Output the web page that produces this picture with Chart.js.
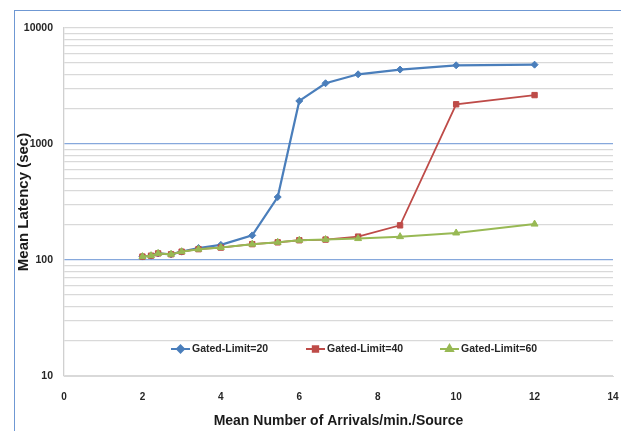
<!DOCTYPE html>
<html>
<head>
<meta charset="utf-8">
<script src="https://cdn.jsdelivr.net/npm/chart.js@4/dist/chart.umd.min.js"></script>
<style>
    html, body { margin: 0; padding: 0; background: #fff; }
    #wrap { position: relative; width: 621px; height: 431px; overflow: hidden; }
    #frame {
        position: absolute; left: 14px; top: 10px; width: 700px; height: 500px;
        border-left: 1.5px solid #6f98d3; border-top: 1.5px solid #6f98d3;
    }
    #chart { position: absolute; left: 0; top: 0; }
</style>
</head>
<body>
<div id="wrap">
    <div id="frame"></div>
    <canvas id="chart" width="621" height="431"></canvas>
</div>
<script>
// Mean number of arrivals per minute per source
const arrivals = [2, 2.22, 2.4, 2.73, 3, 3.43, 4, 4.8, 5.45, 6, 6.67, 7.5, 8.57, 10, 12];

// Mean latency (sec)
const limit20 = [107, 109, 114, 112, 118, 127, 135, 163, 349, 2350, 3340, 3990, 4380, 4770, 4830];
const limit40 = [107, 109, 114, 112, 118, 124, 128, 137, 142, 148, 150, 159, 199, 2200, 2640];
const limit60 = [107, 109, 114, 112, 118, 124, 128, 137, 142, 148, 150, 153, 159, 171, 204];

const seriesNames = ["Gated-Limit=20", "Gated-Limit=40", "Gated-Limit=60"];
const yGridTicks = [10, 20, 30, 40, 50, 60, 70, 80, 90, 100, 200, 300, 400, 500, 600, 700, 800, 900,
    1000, 2000, 3000, 4000, 5000, 6000, 7000, 8000, 9000, 10000];

const BLUE = "#4a7ebb";
const RED = "#be4b48";
const GREEN = "#98b954";

function toPoints(values) {
    return values.map((v, i) => ({ x: arrivals[i], y: v }));
}

// Legend drawn inside the plot area, like the spreadsheet original
const innerLegend = {
    id: "innerLegend",
    afterDatasetsDraw(chart) {
        const ctx = chart.ctx;
        const y = 349;
        const starts = [171, 306, 440];
        ctx.save();
        chart.data.datasets.forEach((ds, i) => {
            const x0 = starts[i];
            ctx.strokeStyle = ds.borderColor;
            ctx.fillStyle = ds.backgroundColor;
            ctx.lineWidth = 2;
            ctx.beginPath();
            ctx.moveTo(x0, y);
            ctx.lineTo(x0 + 19, y);
            ctx.stroke();
            Chart.helpers.drawPoint(ctx, {
                pointStyle: ds.pointStyle,
                radius: ds.pointRadius,
                rotation: 0,
                borderWidth: 1
            }, x0 + 9.5, y);
            ctx.fillStyle = "#262626";
            ctx.font = "bold 10.5px 'Liberation Sans', Arial, sans-serif";
            ctx.textBaseline = "middle";
            ctx.textAlign = "left";
            ctx.fillText(ds.label, x0 + 21, y);
        });
        ctx.restore();
    }
};

new Chart(document.getElementById("chart"), {
    type: "line",
    data: {
        datasets: [
            {
                label: seriesNames[0],
                data: toPoints(limit20),
                borderColor: BLUE,
                backgroundColor: BLUE,
                borderWidth: 2.2,
                pointStyle: "rectRot",
                pointRadius: 3.5,
                pointBorderWidth: 1,
                tension: 0,
                order: 3
            },
            {
                label: seriesNames[1],
                data: toPoints(limit40),
                borderColor: RED,
                backgroundColor: RED,
                borderWidth: 1.8,
                pointStyle: "rect",
                pointRadius: 3.8,
                pointBorderWidth: 1,
                tension: 0,
                order: 2
            },
            {
                label: seriesNames[2],
                data: toPoints(limit60),
                borderColor: GREEN,
                backgroundColor: GREEN,
                borderWidth: 2,
                pointStyle: "triangle",
                pointRadius: 4,
                pointBorderWidth: 1,
                tension: 0,
                order: 1
            }
        ]
    },
    options: {
        responsive: false,
        animation: false,
        layout: { padding: { left: 0, right: 8, top: 28, bottom: 0 } },
        plugins: {
            legend: { display: false },
            tooltip: { enabled: false }
        },
        scales: {
            x: {
                type: "linear",
                min: 0,
                max: 14,
                afterFit: (scale) => {
                    scale.height = 55;
                    scale.paddingLeft = 0;
                    scale.paddingRight = 0;
                },
                ticks: {
                    stepSize: 2,
                    padding: 7,
                    color: "#262626",
                    font: { family: "'Liberation Sans', Arial, sans-serif", size: 10, weight: "bold" }
                },
                grid: { display: false },
                border: { display: true, color: "#d9d9d9", width: 1 },
                title: {
                    display: true,
                    text: "Mean Number of Arrivals/min./Source",
                    color: "#1a1a1a",
                    padding: { top: 0, bottom: 1 },
                    font: { family: "'Liberation Sans', Arial, sans-serif", size: 14, weight: "bold" }
                }
            },
            y: {
                type: "logarithmic",
                min: 10,
                max: 10000,
                afterFit: (scale) => { scale.width = 64; },
                afterBuildTicks: (scale) => {
                    scale.ticks = yGridTicks.map((v) => ({ value: v }));
                },
                ticks: {
                    autoSkip: false,
                    padding: 11,
                    color: "#262626",
                    font: { family: "'Liberation Sans', Arial, sans-serif", size: 10.5, weight: "bold" },
                    callback: (value) => {
                        const e = Math.log10(value);
                        return Math.abs(e - Math.round(e)) < 1e-9 ? String(value) : "";
                    }
                },
                grid: {
                    drawTicks: false,
                    lineWidth: 1.3,
                    color: (ctx) => (ctx.tick && (ctx.tick.value === 100 || ctx.tick.value === 1000) ? "#86a8dc" : "#d9d9d9")
                },
                border: { display: true, color: "#d0d0d0", width: 1.3 },
                title: {
                    display: true,
                    text: "Mean Latency (sec)",
                    color: "#1a1a1a",
                    padding: { top: 15, bottom: 0 },
                    font: { family: "'Liberation Sans', Arial, sans-serif", size: 15, weight: "bold" }
                }
            }
        }
    },
    plugins: [innerLegend]
});
</script>
</body>
</html>
